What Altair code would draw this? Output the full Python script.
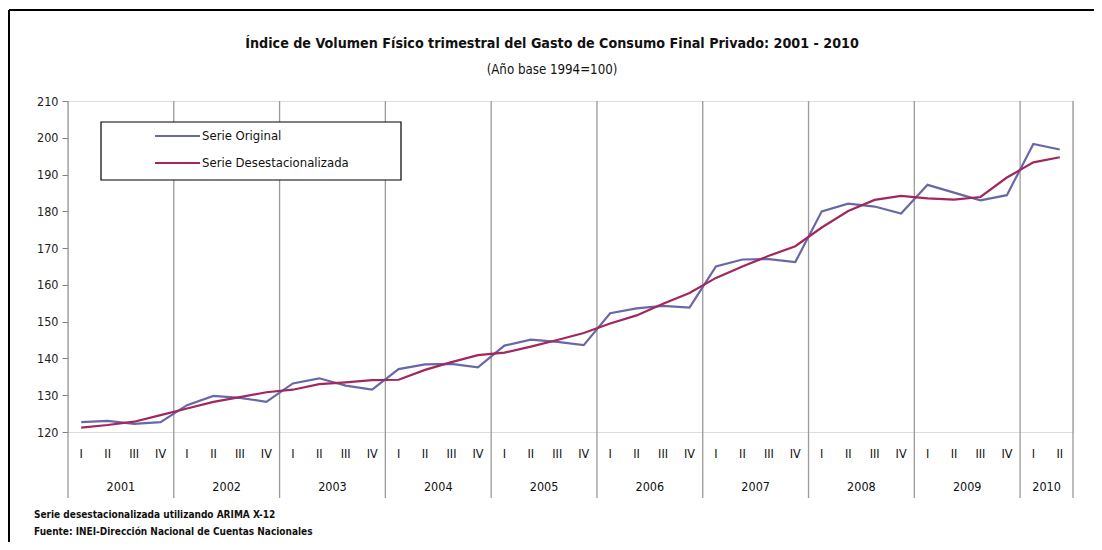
import altair as alt
import pandas as pd

# ---------------- data ----------------
years = ["2001", "2002", "2003", "2004", "2005", "2006", "2007", "2008", "2009", "2010"]
quarter_names = ["I", "II", "III", "IV"]
serie_original = [
    122.7, 123.0, 122.2, 122.7,
    127.3, 129.8, 129.3, 128.2,
    133.2, 134.6, 132.6, 131.5,
    137.1, 138.4, 138.5, 137.6,
    143.5, 145.1, 144.5, 143.6,
    152.3, 153.6, 154.3, 153.8,
    165.0, 166.9, 167.0, 166.2,
    180.0, 182.1, 181.3, 179.4,
    187.2, 185.1, 183.0, 184.4,
    198.3, 196.8,
]
serie_desest = [
    121.2, 121.9, 122.8, 124.6,
    126.4, 128.2, 129.5, 130.8,
    131.5, 133.0, 133.5, 134.1,
    134.2, 136.9, 139.0, 140.9,
    141.6, 143.2, 145.0, 146.9,
    149.5, 151.7, 154.9, 157.8,
    161.9, 165.0, 167.9, 170.5,
    175.6, 180.1, 183.1, 184.2,
    183.5, 183.2, 183.9, 189.2,
    193.3, 194.7,
]
series_names = ["Serie Original", "Serie Desestacionalizada"]
series_colors = ["#6868A6", "#A3265E"]
y_ticks = [120, 130, 140, 150, 160, 170, 180, 190, 200, 210]

title_text = "Índice de Volumen Físico trimestral del Gasto de Consumo Final Privado: 2001 - 2010"
subtitle_text = "(Año base 1994=100)"
footer_1 = "Serie desestacionalizada utilizando ARIMA X-12"
footer_2 = "Fuente: INEI-Dirección Nacional de Cuentas Nacionales"

FONT = "Liberation Sans Narrow, DejaVu Sans Condensed, Roboto Condensed, Liberation Sans, sans-serif"
W, H = 1005, 331
n = len(serie_original)

# ---------------- tables ----------------
rows = []
for i in range(n):
    yr = years[i // 4]
    q = quarter_names[i % 4]
    rows.append({"pos": i + 0.5, "anio": yr, "trim": q, "serie": series_names[0], "valor": serie_original[i]})
    rows.append({"pos": i + 0.5, "anio": yr, "trim": q, "serie": series_names[1], "valor": serie_desest[i]})
df = pd.DataFrame(rows)
df_q = df[df["serie"] == series_names[0]]

year_rows = []
for k, yr in enumerate(years):
    start = 4 * k
    end = min(4 * k + 4, n)
    year_rows.append({"anio": yr, "center": (start + end) / 2})
df_years = pd.DataFrame(year_rows)

bounds = [4 * k for k in range(len(years))] + [n]
df_bounds = pd.DataFrame({"b": bounds})
one = pd.DataFrame({"a": [0]})

xscale = alt.Scale(domain=[0, n], nice=False, zero=False)
yscale = alt.Scale(domain=[120, 210], nice=False, zero=False)

# year separators (inside plot and down through the category axis)
seps = alt.Chart(df_bounds).mark_rule(color="#9A9A9A", strokeWidth=1.3).encode(
    x=alt.X("b:Q", scale=xscale, axis=None),
    y=alt.value(0),
    y2=alt.value(H + 66),
)

# legend box and manual legend entries
legend_box = alt.Chart(one).mark_rect(fill="white", stroke="#000000", strokeWidth=1.2).encode(
    x=alt.value(33), x2=alt.value(333), y=alt.value(21), y2=alt.value(79)
)
legend_layers = []
for k, (name, col) in enumerate(zip(series_names, series_colors)):
    ly = 35 + 27 * k
    legend_layers.append(
        alt.Chart(one).mark_rule(color=col, strokeWidth=2).encode(
            x=alt.value(87), x2=alt.value(132), y=alt.value(ly)
        )
    )
    legend_layers.append(
        alt.Chart(one).mark_text(font=FONT, fontSize=13, color="#111111", align="left",
                                 baseline="middle", text=name).encode(
            x=alt.value(134), y=alt.value(ly)
        )
    )

lines = alt.Chart(df).mark_line(strokeWidth=2.2).encode(
    x=alt.X("pos:Q", scale=xscale, axis=None),
    y=alt.Y(
        "valor:Q",
        scale=yscale,
        axis=alt.Axis(
            values=y_ticks, title=None, grid=False, domain=False,
            tickSize=6, tickColor="#808080", labelPadding=4,
            labelFont=FONT, labelFontSize=12.5, labelColor="#222222",
        ),
    ),
    color=alt.Color(
        "serie:N",
        scale=alt.Scale(domain=series_names, range=series_colors),
        legend=None,
    ),
    order="pos:Q",
)

q_labels = alt.Chart(df_q).mark_text(font=FONT, fontSize=12.5, color="#111111", baseline="middle").encode(
    x=alt.X("pos:Q", scale=xscale, axis=None),
    y=alt.value(H + 22),
    text="trim:N",
)

y_labels = alt.Chart(df_years).mark_text(font=FONT, fontSize=12.5, color="#111111", baseline="middle").encode(
    x=alt.X("center:Q", scale=xscale, axis=None),
    y=alt.value(H + 55),
    text="anio:N",
)

title_mark = alt.Chart(one).mark_text(font=FONT, fontSize=14.2, fontWeight="bold", color="#111111",
                                      align="center", baseline="middle", text=title_text).encode(
    x=alt.value(484), y=alt.value(-57)
)
subtitle_mark = alt.Chart(one).mark_text(font=FONT, fontSize=13.2, color="#111111",
                                         align="center", baseline="middle", text=subtitle_text).encode(
    x=alt.value(484), y=alt.value(-31)
)

foot1 = alt.Chart(one).mark_text(font=FONT, fontSize=10, fontWeight="bold", color="#111111",
                                 align="left", baseline="middle", text=footer_1).encode(
    x=alt.value(-34), y=alt.value(414)
)
foot2 = alt.Chart(one).mark_text(font=FONT, fontSize=10, fontWeight="bold", color="#111111",
                                 align="left", baseline="middle", text=footer_2).encode(
    x=alt.value(-34), y=alt.value(431)
)

frame_top = alt.Chart(one).mark_rule(color="#000000", strokeWidth=2).encode(
    x=alt.value(-59), x2=alt.value(1040), y=alt.value(-91)
)
frame_left = alt.Chart(one).mark_rule(color="#000000", strokeWidth=2).encode(
    x=alt.value(-59), y=alt.value(-91), y2=alt.value(460)
)

chart = alt.layer(
    frame_top, frame_left, seps, legend_box, *legend_layers, lines, q_labels, y_labels,
    title_mark, subtitle_mark, foot1, foot2
).properties(
    width=W,
    height=H,
    padding={"left": 60, "top": 93, "right": 21, "bottom": 110},
    autosize=alt.AutoSizeParams(type="none"),
).configure_view(
    stroke="#6E6E6E", strokeWidth=1.5
).configure(background="white")

chart.save("out.html", embed_options={"renderer": "svg", "actions": False})
